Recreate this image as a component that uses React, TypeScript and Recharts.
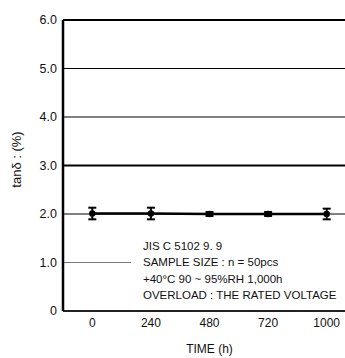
import React, { useLayoutEffect } from "react";
import { LineChart, Line, XAxis, YAxis, ReferenceLine, ErrorBar } from "recharts";

const times = ["0", "240", "480", "720", "1000"];
const tanDelta = [2.01, 2.01, 2.0, 2.0, 2.0];
const spread = [0.12, 0.12, 0.04, 0.04, 0.11];
const yTicks = [0, 1, 2, 3, 4, 5, 6];
const noteLines = [
  "JIS C 5102 9. 9",
  "SAMPLE SIZE : n = 50pcs",
  "+40°C 90 ~ 95%RH  1,000h",
  "OVERLOAD : THE RATED VOLTAGE",
];

const data = times.map((t, i) => ({ time: t, v: tanDelta[i], err: spread[i] }));

const FONT = "'Liberation Sans', Arial, sans-serif";

const ShortLine = (props: any) => {
  const { x1, y1, y2 } = props;
  return <line x1={x1} y1={y1} x2={x1 + 68} y2={y2} stroke="#777" strokeWidth={1} />;
};

const YLabel = (props: any) => {
  const vb = props.viewBox || {};
  const cx = vb.x + vb.width - 47;
  const cy = vb.y + vb.height / 2 - 6;
  return (
    <text
      x={cx}
      y={cy}
      transform={`rotate(-90 ${cx} ${cy})`}
      textAnchor="middle"
      dominantBaseline="central"
      fontSize={13}
      fontFamily={FONT}
      fill="#111"
    >
      tanδ : (%)
    </text>
  );
};

export default function App() {
  useLayoutEffect(() => {
    document.body.style.margin = "0";
  }, []);
  return (
    <div
      style={{
        position: "relative",
        width: 345,
        height: 358,
        overflow: "hidden",
        fontFamily: FONT,
        background: "#fff",
      }}
    >
      <div style={{ position: "absolute", left: 8, top: 8 }}>
        <LineChart
          width={350}
          height={350}
          data={data}
          margin={{ top: 12, right: 2, bottom: 0, left: 10 }}
        >
          <ReferenceLine y={6} stroke="#000" strokeWidth={2} />
          <ReferenceLine y={5} stroke="#000" strokeWidth={1} />
          <ReferenceLine y={4} stroke="#000" strokeWidth={1} />
          <ReferenceLine y={3} stroke="#000" strokeWidth={2} />
          <ReferenceLine y={2} stroke="#000" strokeWidth={1} />
          <ReferenceLine y={1} stroke="#777" strokeWidth={1} shape={ShortLine} />
          <XAxis
            dataKey="time"
            type="category"
            scale="band"
            ticks={times}
            tickLine={false}
            axisLine={{ stroke: "#222", strokeWidth: 2 }}
            tick={{ fill: "#111", fontSize: 12, fontFamily: FONT }}
            tickMargin={1}
            height={47}
            label={{ value: "TIME  (h)", position: "insideBottom", offset: 5, fill: "#111", fontSize: 12, fontFamily: FONT }}
          />
          <YAxis
            type="number"
            domain={[0, 6]}
            ticks={yTicks}
            interval={0}
            tickLine={false}
            tickSize={4}
            tickMargin={2}
            width={45}
            axisLine={{ stroke: "#000", strokeWidth: 2.5 }}
            tick={{ fill: "#111", fontSize: 12.5, fontFamily: FONT }}
            tickFormatter={(v: number) => (v === 0 ? "0" : v.toFixed(1))}
            label={<YLabel />}
          />
          <Line
            dataKey="v"
            stroke="#000"
            strokeWidth={2.5}
            dot={{ r: 2, fill: "#000", stroke: "#000" }}
            isAnimationActive={false}
          >
            <ErrorBar dataKey="err" width={4} stroke="#000" strokeWidth={2} direction="y" />
          </Line>
        </LineChart>
      </div>
      <div
        style={{
          position: "absolute",
          left: 131,
          top: 238,
          width: 214,
          background: "#fff",
          paddingLeft: 12,
          fontSize: 11.5,
          lineHeight: "16.3px",
          color: "#111",
          whiteSpace: "nowrap",
        }}
      >
        {noteLines.map((l) => (
          <div key={l}>{l}</div>
        ))}
      </div>
    </div>
  );
}
